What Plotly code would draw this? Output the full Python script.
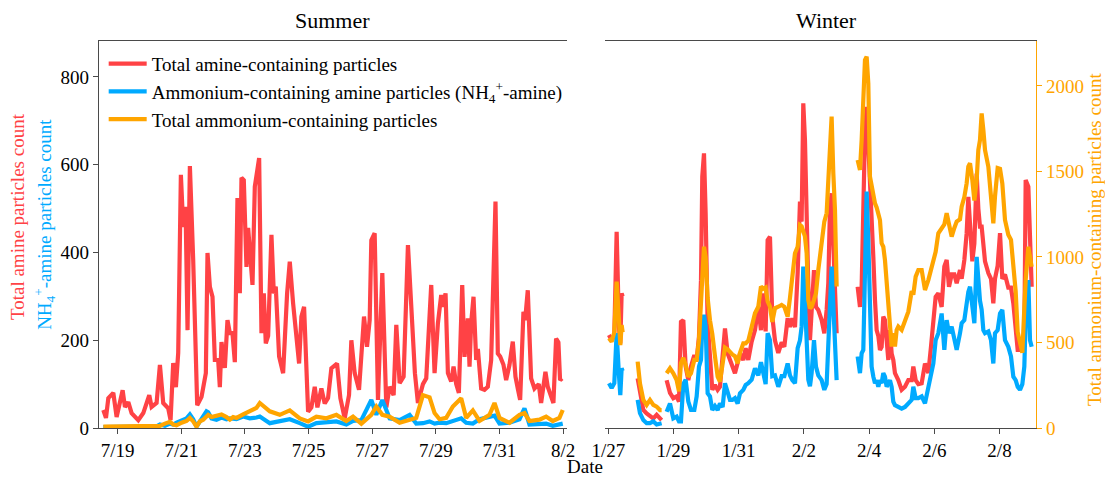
import pandas as pd
import plotly.graph_objects as go

# ---------------- Summer campaign (days counted from June 30) ----------------
summer_amine_day = [
    18.549, 18.632, 18.706, 18.863, 18.967, 19.156, 19.229, 19.334, 19.438, 19.648,
    19.805, 19.993, 20.066, 20.223, 20.328, 20.432, 20.589, 20.663, 20.746, 20.830,
    20.903, 20.987, 21.060, 21.134, 21.196, 21.270, 21.374, 21.500, 21.636, 21.772,
    21.824, 21.898, 21.981, 22.055, 22.159, 22.212, 22.264, 22.369, 22.452, 22.526,
    22.609, 22.683, 22.766, 22.840, 22.892, 22.965, 23.049, 23.101,
    23.238, 23.311, 23.447, 23.520, 23.594, 23.656, 23.730, 23.834, 23.908, 23.970,
    24.075, 24.201, 24.326, 24.410, 24.515, 24.619, 24.703, 24.776, 24.860, 24.986,
    25.090, 25.195, 25.279, 25.404, 25.509, 25.613, 25.718, 25.896, 26.001, 26.137,
    26.273, 26.346, 26.451, 26.587, 26.744, 26.838, 26.922, 26.974, 27.079, 27.183,
    27.319, 27.445, 27.550, 27.675, 27.759, 27.864, 27.989, 28.125,
    28.261, 28.303, 28.344, 28.439, 28.596, 28.700, 28.857, 28.962, 29.067, 29.171,
    29.224, 29.307, 29.381, 29.485, 29.559, 29.642, 29.726, 29.831, 29.904, 30.009,
    30.061, 30.113, 30.186, 30.270, 30.323, 30.427, 30.532, 30.636, 30.741, 30.877,
    30.950, 31.024, 31.128, 31.212, 31.317, 31.421, 31.505, 31.578, 31.652, 31.756,
    31.809, 31.892, 31.997, 32.102, 32.238, 32.311, 32.447, 32.520, 32.625, 32.698,
    32.782, 32.855, 32.907, 32.970,
]
summer_amine = [
    41, 23, 68, 80, 25, 86, 48, 59, 34, 18,
    34, 75, 48, 57, 144, 57, 45, 18, 148, 93,
    171, 577, 458, 504, 223, 597, 383, 52, 71, 125,
    399, 322, 299, 155, 155, 93, 196, 137, 246, 216,
    216, 150, 524, 307, 570, 565, 367, 456,
    326, 550, 615, 216, 307, 193, 210, 440, 307, 322,
    163, 125, 307, 379, 284, 193, 147, 254, 276, 37,
    47, 94, 47, 90, 56, 68, 136, 147, 68, 22,
    75, 200, 125, 87, 254, 185, 246, 428, 444, 64,
    353, 47, 94, 75, 235, 102, 117, 417,
    239, 220, 125, 57, 100, 113, 326, 125, 239, 303,
    276, 307, 125, 106, 140, 100, 80, 326, 162, 250,
    140, 240, 299, 155, 180, 90, 87, 94, 155, 516,
    170, 163, 144, 109, 144, 197, 117, 90, 64, 265,
    246, 314, 113, 90, 100, 57, 128, 94, 75, 57,
    204, 195, 109, 113,
]

summer_nh4_day = [
    18.549, 18.758, 18.967, 19.177, 19.386, 19.595, 19.805, 20.014, 20.223, 20.328,
    20.485, 20.642, 20.746, 20.851, 21.008, 21.165, 21.270, 21.374, 21.479, 21.584,
    21.688, 21.793, 21.845, 21.950, 22.107, 22.264, 22.421, 22.526, 22.630, 22.735,
    22.944, 23.154, 23.363,
    23.468, 23.782, 24.096, 24.410, 24.724, 24.986, 25.247, 25.561, 25.875, 26.189,
    26.398, 26.660, 26.974, 27.131, 27.319, 27.550, 27.864, 28.177,
    28.386, 28.596, 28.805, 28.962, 29.119, 29.328, 29.537, 29.799, 29.956, 30.165,
    30.375, 30.689, 30.846, 31.003, 31.317, 31.631, 31.788, 31.945, 32.259, 32.468,
    32.677, 32.887, 32.991,
]
summer_nh4_amine = [
    2, 2, 2, 2, 2, 2, 2, 3, 4, 8,
    5, 10, 8, 12, 18, 22, 31, 20, 3, 15,
    25, 38, 36, 22, 19, 24, 20, 22, 21, 20,
    26, 22, 24,
    26, 11, 16, 20, 11, 3, 11, 14, 15, 8,
    16, 18, 64, 30, 64, 22, 18, 30,
    10, 11, 15, 10, 12, 11, 15, 22, 12, 10,
    20, 25, 28, 10, 12, 20, 45, 8, 10, 10,
    5, 8, 10,
]
summer_ammonium = [
    3, 3, 3, 3, 3, 3, 3, 3, 3, 5,
    10, 14, 8, 6, 12, 16, 23, 15, 3, 15,
    19, 28, 30, 25, 27, 31, 25, 19, 25, 23,
    31, 38, 46,
    57, 38, 30, 40, 22, 15, 26, 22, 30, 16,
    26, 10, 30, 49, 30, 26, 12, 20,
    23, 75, 70, 34, 20, 23, 49, 68, 23, 40,
    16, 30, 57, 23, 12, 30, 34, 16, 19, 26,
    16, 23, 41,
]

# ---------------- Winter campaign (days counted from Dec 31) ----------------
# None entries mark the breaks between measurement periods
winter_day = [
    27.021, 27.103, 27.185, 27.257, 27.328, 27.369, 27.410, 27.441,
    27.650,
    27.901, 27.972, 28.075, 28.177, 28.279, 28.381, 28.484, 28.586, 28.637,
    28.720,
    28.790, 28.893, 28.995, 29.097, 29.169, 29.230, 29.302, 29.373, 29.455, 29.537,
    29.639, 29.711, 29.782, 29.844, 29.884, 29.936, 29.987, 30.048, 30.120, 30.191,
    30.273, 30.355, 30.426, 30.508, 30.580, 30.662, 30.733, 30.805, 30.886, 30.968,
    31.040, 31.142, 31.214, 31.295, 31.398, 31.500,
    31.602, 31.684, 31.755, 31.827, 31.888, 31.960, 32.031, 32.113, 32.215, 32.318,
    32.400, 32.502, 32.573, 32.645, 32.727, 32.809, 32.880, 32.931, 32.982, 33.033,
    33.085, 33.136, 33.187, 33.238, 33.310, 33.371, 33.442, 33.545, 33.627, 33.698,
    33.749, 33.800, 33.851, 33.903, 33.954, 34.005,
    34.300,
    34.649, 34.721, 34.772, 34.823, 34.874, 34.925, 34.976, 35.027, 35.078, 35.130,
    35.181, 35.232, 35.283, 35.334, 35.385, 35.436, 35.487, 35.539, 35.590, 35.641,
    35.692, 35.743, 35.794, 35.845, 35.896, 35.999, 36.101,
    36.204, 36.306, 36.357, 36.429, 36.511, 36.613, 36.715, 36.817, 36.899, 36.971,
    37.042, 37.124, 37.226, 37.308, 37.380, 37.451, 37.533, 37.615, 37.687, 37.789,
    37.840, 37.922, 37.993, 38.044, 38.096, 38.167, 38.229, 38.300, 38.351, 38.402,
    38.453, 38.505, 38.556, 38.658, 38.740, 38.811, 38.862, 38.944, 39.016, 39.087,
    39.169, 39.271, 39.353, 39.425, 39.496, 39.558, 39.629, 39.701, 39.762, 39.803,
    39.885, 39.936, 39.987,
]
winter_amine = [
    212, 200, 212, 447, 230, 193, 307, 300,
    None,
    113, 80, 41, 33, 26, 22, 30, 22, 18,
    None,
    109, 80, 68, 72, 60, 242, 246, 140, 109, 140,
    166, 155, 208, 337, 573, 626, 489, 239, 163, 87,
    98, 87, 94, 155, 227, 170, 155, 144, 125, 148,
    170, 155, 182, 155, 197, 223,
    276, 223, 307, 220, 428, 436, 254, 200, 171, 195,
    185, 250, 230, 250, 230, 353, 516, 470, 740, 656,
    413, 322, 200, 260, 360, 276, 269, 246, 216, 269,
    330, 500, 535, 420, 300, 216,
    None,
    322, 276, 322, 504, 672, 732, 656, 558, 459, 390,
    292, 223, 210, 178, 185, 254, 246, 200, 155, 223,
    170, 155, 125, 117, 109, 87, 94,
    109, 109, 140, 109, 100, 102, 147, 125, 185, 246,
    299, 307, 276, 368, 383, 322, 350, 350, 330, 360,
    340, 383, 444, 527, 470, 380, 420, 580, 500, 459,
    459, 420, 380, 353, 340, 284, 340, 370, 444, 340,
    350, 320, 320, 284, 231, 178, 178, 178, 200, 565,
    550, 428, 322,
]
winter_nh4_amine = [
    102, 91, 102, 216, 120, 75, 136, 130,
    None,
    64, 34, 18, 11, 11, 15, 8, 11, 11,
    None,
    37, 56, 22, 26, 15, 15, 100, 110, 60, 41,
    41, 72, 140, 155, 230, 258, 232, 79, 72, 41,
    50, 41, 56, 48, 102, 79, 64, 64, 68, 56,
    79, 87, 98, 102, 110, 136,
    120, 150, 120, 100, 216, 200, 118, 120, 94, 118,
    118, 147, 120, 109, 102, 182, 200, 231, 368, 300,
    200, 110, 95, 125, 200, 140, 120, 109, 87, 100,
    200, 300, 368, 280, 170, 109,
    None,
    163, 125, 170, 178, 353, 539, 428, 223, 140, 117,
    102, 109, 94, 109, 102, 125, 117, 94, 102, 109,
    94, 60, 52, 50, 48, 44, 48,
    56, 64, 94, 68, 68, 72, 56, 94, 132, 147,
    200, 216, 261, 178, 246, 216, 231, 200, 178, 216,
    239, 246, 290, 310, 322, 280, 239, 390, 320, 290,
    270, 223, 216, 220, 200, 147, 216, 223, 261, 269,
    200, 185, 163, 117, 109, 94, 87, 100, 140, 250,
    337, 200, 185,
]
winter_ammonium = [
    525, 505, 560, 856, 632, 485, 602, 560,
    None,
    388, 261, 164, 135, 164, 135, 125, 105, 105,
    None,
    320, 349, 320, 281, 215, 380, 410, 370, 300, 320,
    398, 398, 515, 729, 950, 1060, 1000, 760, 630, 550,
    420, 300, 271, 360, 470, 460, 440, 430, 420, 378,
    440, 495, 495, 510, 590, 671,
    709, 827, 815, 822, 740, 710, 620, 700, 709, 720,
    709, 651, 760, 880, 1022, 1060, 1187, 1180, 1150, 1120,
    1022, 749, 700, 709, 749, 788, 924, 1060, 1207, 1256,
    1470, 1684, 1821, 1490, 1275, 827,
    None,
    1567, 1509, 1684, 1879, 2152, 2171, 2016, 1470, 1411, 1353,
    1314, 1290, 1256, 1216, 1080, 1060, 982, 846, 709, 573,
    476, 554, 476, 573, 593, 573, 632,
    680, 800, 780, 885, 924, 924, 807, 865, 920, 960,
    1030, 1139, 1170, 1190, 1256, 1180, 1119, 1170, 1207, 1220,
    1294, 1350, 1431, 1528, 1548, 1450, 1330, 1450, 1626, 1684,
    1840, 1743, 1626, 1528, 1333, 1197, 1353, 1520, 1515, 1430,
    1216, 1130, 1100, 924, 800, 560, 500, 440, 700, 865,
    1060, 1002, 943,
]

SERIES_NAMES = [
    "Total amine-containing particles",
    "Ammonium-containing amine particles (NH<sub>4</sub><sup>+</sup>-amine)",
    "Total ammonium-containing particles",
]
RED, BLUE, ORANGE = "#FF4245", "#00AAFF", "#FFA500"
AXIS_GREY = "#4a4a4a"
FONT = "Liberation Serif"

SUMMER_BASE = pd.Timestamp("2018-06-30")
WINTER_BASE = pd.Timestamp("2018-12-31")


def to_time(base, days):
    return [base + pd.Timedelta(days=d) for d in days]


s_red_t = to_time(SUMMER_BASE, summer_amine_day)
s_low_t = to_time(SUMMER_BASE, summer_nh4_day)
w_t = to_time(WINTER_BASE, winter_day)

fig = go.Figure()
line_w = 4.2

# Summer panel
fig.add_trace(go.Scatter(x=s_red_t, y=summer_amine, mode="lines", name=SERIES_NAMES[0],
                         line=dict(color=RED, width=line_w), xaxis="x", yaxis="y"))
fig.add_trace(go.Scatter(x=s_low_t, y=summer_nh4_amine, mode="lines", name=SERIES_NAMES[1],
                         line=dict(color=BLUE, width=line_w), xaxis="x", yaxis="y"))
fig.add_trace(go.Scatter(x=s_low_t, y=summer_ammonium, mode="lines", name=SERIES_NAMES[2],
                         line=dict(color=ORANGE, width=line_w), xaxis="x", yaxis="y"))

# Winter panel
fig.add_trace(go.Scatter(x=w_t, y=winter_amine, mode="lines", name=SERIES_NAMES[0],
                         line=dict(color=RED, width=line_w), xaxis="x2", yaxis="y2",
                         showlegend=False, connectgaps=False))
fig.add_trace(go.Scatter(x=w_t, y=winter_nh4_amine, mode="lines", name=SERIES_NAMES[1],
                         line=dict(color=BLUE, width=line_w), xaxis="x2", yaxis="y2",
                         showlegend=False, connectgaps=False))
fig.add_trace(go.Scatter(x=w_t, y=winter_ammonium, mode="lines", name=SERIES_NAMES[2],
                         line=dict(color=ORANGE, width=line_w), xaxis="x2", yaxis="y3",
                         showlegend=False, connectgaps=False))

LEFT_MAX = 882
RIGHT_MAX = 2263
DAY_MS = 86400000

tick_font = dict(family=FONT, size=19, color="black")
common_x = dict(showline=True, linecolor=AXIS_GREY, linewidth=1.3, mirror=True,
                ticks="outside", ticklen=5, tickcolor=AXIS_GREY, tickwidth=1.2,
                tickformat="%-m/%-d", dtick=2 * DAY_MS, showgrid=False, zeroline=False,
                tickfont=tick_font)

fig.update_layout(
    width=1105, height=477, autosize=False,
    margin=dict(l=99, r=69, t=41, b=49),
    paper_bgcolor="white", plot_bgcolor="white",
    font=dict(family=FONT, size=19, color="black"),
    xaxis=dict(domain=[0, 0.4995], anchor="y",
               range=[SUMMER_BASE + pd.Timedelta(days=18.413), SUMMER_BASE + pd.Timedelta(days=33.126)],
               tick0="2018-07-19", **common_x),
    xaxis2=dict(domain=[0.540, 1], anchor="y2",
                range=[WINTER_BASE + pd.Timedelta(days=26.899), WINTER_BASE + pd.Timedelta(days=40.12)],
                tick0="2019-01-27", **common_x),
    yaxis=dict(domain=[0, 1], anchor="x", range=[0, LEFT_MAX],
               showline=True, linecolor=AXIS_GREY, linewidth=1.3,
               ticks="outside", ticklen=5, tickcolor=AXIS_GREY, tickwidth=1.2,
               tickvals=[0, 200, 400, 600, 800], showgrid=False, zeroline=False,
               tickfont=tick_font),
    yaxis2=dict(domain=[0, 1], anchor="x2", range=[0, LEFT_MAX],
                showline=False, showticklabels=False, ticks="",
                showgrid=False, zeroline=False),
    yaxis3=dict(anchor="x2", overlaying="y2", side="right", range=[0, RIGHT_MAX],
                showline=True, linecolor=ORANGE, linewidth=1.3,
                ticks="outside", ticklen=5, tickcolor=ORANGE, tickwidth=1.2,
                tickvals=[0, 500, 1000, 1500, 2000], showgrid=False, zeroline=False,
                tickfont=dict(family=FONT, size=19, color=ORANGE)),
    legend=dict(x=0.005, y=0.99, xanchor="left", yanchor="top",
                bgcolor="rgba(0,0,0,0)", borderwidth=0, itemwidth=38,
                font=dict(family=FONT, size=19, color="black"),
                tracegroupgap=0),
    showlegend=True,
)

annotations = [
    dict(text="Summer", x=0.2497, y=1.054, xref="paper", yref="paper",
         showarrow=False, font=dict(family=FONT, size=22, color="black"),
         xanchor="center", yanchor="middle"),
    dict(text="Winter", x=0.776, y=1.054, xref="paper", yref="paper",
         showarrow=False, font=dict(family=FONT, size=22, color="black"),
         xanchor="center", yanchor="middle"),
    dict(text="Date", x=0.519, y=-0.099, xref="paper", yref="paper",
         showarrow=False, font=dict(family=FONT, size=19, color="black"),
         xanchor="center", yanchor="middle"),
    dict(text="Total amine particles count", x=-0.0875, y=0.545, xref="paper", yref="paper",
         showarrow=False, textangle=-90, font=dict(family=FONT, size=19, color=RED),
         xanchor="center", yanchor="middle"),
    dict(text="NH<sub>4</sub><sup>+</sup>-amine particles count", x=-0.0576, y=0.525,
         xref="paper", yref="paper", showarrow=False, textangle=-90,
         font=dict(family=FONT, size=19, color=BLUE), xanchor="center", yanchor="middle"),
    dict(text="Total ammonium-containing particles count", x=1.063, y=0.486,
         xref="paper", yref="paper", showarrow=False, textangle=-90,
         font=dict(family=FONT, size=19, color=ORANGE), xanchor="center", yanchor="middle"),
]
fig.update_layout(annotations=annotations)

fig.write_html("out.html")
